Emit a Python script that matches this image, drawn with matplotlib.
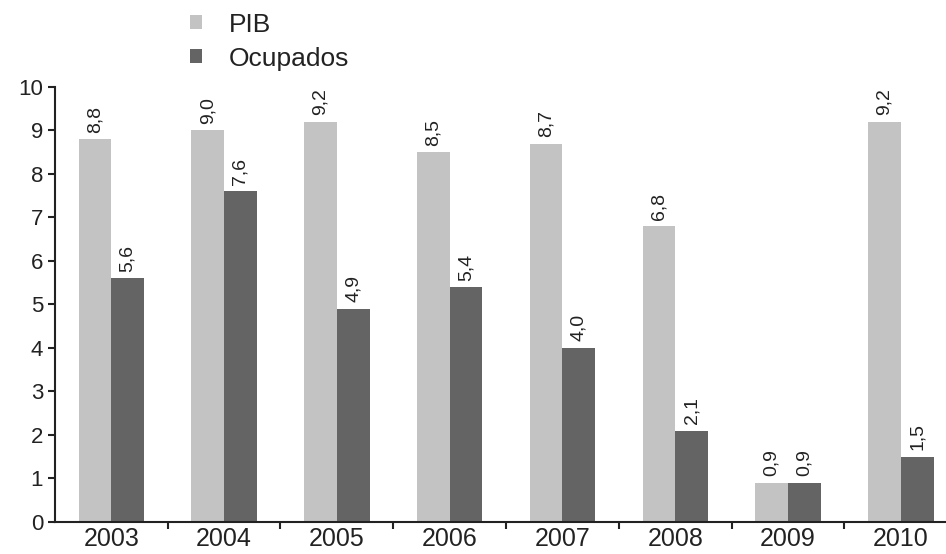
import numpy as np
import matplotlib.pyplot as plt

years = ["2003", "2004", "2005", "2006", "2007", "2008", "2009", "2010"]
pib = [8.8, 9.0, 9.2, 8.5, 8.7, 6.8, 0.9, 9.2]
ocupados = [5.6, 7.6, 4.9, 5.4, 4.0, 2.1, 0.9, 1.5]

plt.rcParams['font.family'] = ['Liberation Sans', 'DejaVu Sans']

fig = plt.figure(figsize=(9.46, 5.54), dpi=100)
ax = fig.add_axes([0.058, 0.058, 0.942, 0.785])

x = np.arange(len(years))
w = 0.29
b1 = ax.bar(x - w / 2, pib, w, color="#c3c3c3", label="PIB")
b2 = ax.bar(x + w / 2, ocupados, w, color="#646464", label="Ocupados")

def fmt(v):
    return f"{v:.1f}".replace(".", ",")

for bars, vals in ((b1, pib), (b2, ocupados)):
    for r, v in zip(bars, vals):
        ax.text(r.get_x() + r.get_width() / 2, v + 0.15, fmt(v), rotation=90,
                ha="center", va="bottom", fontsize=14, color="#222222")

ax.set_xlim(-0.5, 7.4)
ax.set_ylim(0, 10)
ax.set_yticks(range(0, 11))
ax.tick_params(axis="y", labelsize=16, length=5, width=1.5, direction="out",
               colors="#222222")
ax.set_xticks(x)
ax.set_xticklabels(years, fontsize=18, color="#222222")
ax.tick_params(axis="x", length=0, pad=4)
ax.set_xticks(x[:-1] + 0.5, minor=True)
ax.tick_params(axis="x", which="minor", length=5, width=1.5, direction="out",
               color="#222222")

for s in ("top", "right"):
    ax.spines[s].set_visible(False)
ax.spines["left"].set_linewidth(1.5)
ax.spines["bottom"].set_linewidth(1.5)
ax.spines["left"].set_color("#222222")
ax.spines["bottom"].set_color("#222222")

fig.legend(handles=[b1, b2], loc="upper left", bbox_to_anchor=(0.176, 1.02),
           frameon=False, fontsize=19, handlelength=0.45, handleheight=0.45,
           handletextpad=1.0, labelspacing=0.38, labelcolor="#222222")

fig.savefig("out.png", dpi=100)
